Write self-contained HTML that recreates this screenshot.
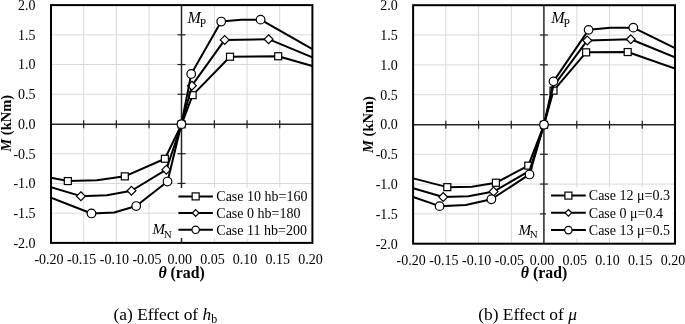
<!DOCTYPE html>
<html><head><meta charset="utf-8"><style>
html,body{margin:0;padding:0;background:#fff;}
body{width:685px;height:324px;overflow:hidden;position:relative;font-family:"Liberation Serif",serif;}
svg{position:absolute;left:0;top:0;display:block;will-change:transform;}
</style></head><body>
<svg width="685" height="324" viewBox="0 0 685 324">
<defs><clipPath id="clip51"><rect x="51" y="5" width="261.4" height="238"/></clipPath><clipPath id="clip413"><rect x="413.1" y="5.2" width="261.9" height="238.5"/></clipPath></defs>
<rect width="685" height="324" fill="#fff"/>
<line x1="83.67" y1="5.10" x2="83.67" y2="242.90" stroke="#d9d9d9" stroke-width="1"/>
<line x1="116.35" y1="5.10" x2="116.35" y2="242.90" stroke="#d9d9d9" stroke-width="1"/>
<line x1="149.02" y1="5.10" x2="149.02" y2="242.90" stroke="#d9d9d9" stroke-width="1"/>
<line x1="214.38" y1="5.10" x2="214.38" y2="242.90" stroke="#d9d9d9" stroke-width="1"/>
<line x1="247.05" y1="5.10" x2="247.05" y2="242.90" stroke="#d9d9d9" stroke-width="1"/>
<line x1="279.72" y1="5.10" x2="279.72" y2="242.90" stroke="#d9d9d9" stroke-width="1"/>
<line x1="51.00" y1="34.83" x2="312.40" y2="34.83" stroke="#d9d9d9" stroke-width="1"/>
<line x1="51.00" y1="64.55" x2="312.40" y2="64.55" stroke="#d9d9d9" stroke-width="1"/>
<line x1="51.00" y1="94.28" x2="312.40" y2="94.28" stroke="#d9d9d9" stroke-width="1"/>
<line x1="51.00" y1="153.72" x2="312.40" y2="153.72" stroke="#d9d9d9" stroke-width="1"/>
<line x1="51.00" y1="183.45" x2="312.40" y2="183.45" stroke="#d9d9d9" stroke-width="1"/>
<line x1="51.00" y1="213.18" x2="312.40" y2="213.18" stroke="#d9d9d9" stroke-width="1"/>
<line x1="51.00" y1="124.30" x2="312.40" y2="124.30" stroke="#262626" stroke-width="1.5"/>
<line x1="181.50" y1="5.10" x2="181.50" y2="242.90" stroke="#262626" stroke-width="1.5"/>
<line x1="83.67" y1="120.30" x2="83.67" y2="128.30" stroke="#222" stroke-width="1.2"/>
<line x1="116.35" y1="120.30" x2="116.35" y2="128.30" stroke="#222" stroke-width="1.2"/>
<line x1="149.02" y1="120.30" x2="149.02" y2="128.30" stroke="#222" stroke-width="1.2"/>
<line x1="214.38" y1="120.30" x2="214.38" y2="128.30" stroke="#222" stroke-width="1.2"/>
<line x1="247.05" y1="120.30" x2="247.05" y2="128.30" stroke="#222" stroke-width="1.2"/>
<line x1="279.72" y1="120.30" x2="279.72" y2="128.30" stroke="#222" stroke-width="1.2"/>
<line x1="177.50" y1="34.83" x2="185.50" y2="34.83" stroke="#222" stroke-width="1.2"/>
<line x1="177.50" y1="64.55" x2="185.50" y2="64.55" stroke="#222" stroke-width="1.2"/>
<line x1="177.50" y1="94.28" x2="185.50" y2="94.28" stroke="#222" stroke-width="1.2"/>
<line x1="177.50" y1="153.72" x2="185.50" y2="153.72" stroke="#222" stroke-width="1.2"/>
<line x1="177.50" y1="183.45" x2="185.50" y2="183.45" stroke="#222" stroke-width="1.2"/>
<line x1="177.50" y1="213.18" x2="185.50" y2="213.18" stroke="#222" stroke-width="1.2"/>
<rect x="177" y="188" width="134" height="50" fill="#fff"/>
<g clip-path="url(#clip51)">
<polyline points="51.00,177.85 67.80,181.05 96.90,180.35 124.80,176.35 164.90,158.75 181.60,124.35 192.60,95.15 230.00,56.75 278.20,56.25 312.40,65.95" fill="none" stroke="#000" stroke-width="2" stroke-linejoin="round"/>
<rect x="64.30" y="177.55" width="7.00" height="7.00" fill="#fff" stroke="#000" stroke-width="1.2"/>
<rect x="121.30" y="172.85" width="7.00" height="7.00" fill="#fff" stroke="#000" stroke-width="1.2"/>
<rect x="161.40" y="155.25" width="7.00" height="7.00" fill="#fff" stroke="#000" stroke-width="1.2"/>
<rect x="178.10" y="120.85" width="7.00" height="7.00" fill="#fff" stroke="#000" stroke-width="1.2"/>
<rect x="189.10" y="91.65" width="7.00" height="7.00" fill="#fff" stroke="#000" stroke-width="1.2"/>
<rect x="226.50" y="53.25" width="7.00" height="7.00" fill="#fff" stroke="#000" stroke-width="1.2"/>
<rect x="274.70" y="52.75" width="7.00" height="7.00" fill="#fff" stroke="#000" stroke-width="1.2"/>
<polyline points="51.00,187.25 80.90,196.15 106.80,195.15 131.50,190.75 166.30,169.65 181.60,124.35 191.90,85.65 224.70,39.95 268.60,39.15 312.40,57.35" fill="none" stroke="#000" stroke-width="2" stroke-linejoin="round"/>
<path d="M80.90,191.75 L85.30,196.15 L80.90,200.55 L76.50,196.15 Z" fill="#fff" stroke="#000" stroke-width="1.2"/>
<path d="M131.50,186.35 L135.90,190.75 L131.50,195.15 L127.10,190.75 Z" fill="#fff" stroke="#000" stroke-width="1.2"/>
<path d="M166.30,165.25 L170.70,169.65 L166.30,174.05 L161.90,169.65 Z" fill="#fff" stroke="#000" stroke-width="1.2"/>
<path d="M181.60,119.95 L186.00,124.35 L181.60,128.75 L177.20,124.35 Z" fill="#fff" stroke="#000" stroke-width="1.2"/>
<path d="M191.90,81.25 L196.30,85.65 L191.90,90.05 L187.50,85.65 Z" fill="#fff" stroke="#000" stroke-width="1.2"/>
<path d="M224.70,35.55 L229.10,39.95 L224.70,44.35 L220.30,39.95 Z" fill="#fff" stroke="#000" stroke-width="1.2"/>
<path d="M268.60,34.75 L273.00,39.15 L268.60,43.55 L264.20,39.15 Z" fill="#fff" stroke="#000" stroke-width="1.2"/>
<polyline points="51.00,197.65 91.50,213.45 114.20,212.45 136.20,206.05 167.50,181.55 181.40,124.15 191.20,73.95 221.20,21.55 241.40,19.65 260.60,19.65 312.40,49.15" fill="none" stroke="#000" stroke-width="2" stroke-linejoin="round"/>
<circle cx="91.50" cy="213.45" r="4.3" fill="#fff" stroke="#000" stroke-width="1.2"/>
<circle cx="136.20" cy="206.05" r="4.3" fill="#fff" stroke="#000" stroke-width="1.2"/>
<circle cx="167.50" cy="181.55" r="4.3" fill="#fff" stroke="#000" stroke-width="1.2"/>
<circle cx="181.40" cy="124.15" r="4.3" fill="#fff" stroke="#000" stroke-width="1.2"/>
<circle cx="191.20" cy="73.95" r="4.3" fill="#fff" stroke="#000" stroke-width="1.2"/>
<circle cx="221.20" cy="21.55" r="4.3" fill="#fff" stroke="#000" stroke-width="1.2"/>
<circle cx="260.60" cy="19.65" r="4.3" fill="#fff" stroke="#000" stroke-width="1.2"/>
</g>
<rect x="51.00" y="5.10" width="261.40" height="237.80" fill="none" stroke="#000" stroke-width="2"/>
<line x1="445.84" y1="5.20" x2="445.84" y2="243.70" stroke="#d9d9d9" stroke-width="1"/>
<line x1="478.58" y1="5.20" x2="478.58" y2="243.70" stroke="#d9d9d9" stroke-width="1"/>
<line x1="511.31" y1="5.20" x2="511.31" y2="243.70" stroke="#d9d9d9" stroke-width="1"/>
<line x1="576.79" y1="5.20" x2="576.79" y2="243.70" stroke="#d9d9d9" stroke-width="1"/>
<line x1="609.52" y1="5.20" x2="609.52" y2="243.70" stroke="#d9d9d9" stroke-width="1"/>
<line x1="642.26" y1="5.20" x2="642.26" y2="243.70" stroke="#d9d9d9" stroke-width="1"/>
<line x1="413.10" y1="35.01" x2="675.00" y2="35.01" stroke="#d9d9d9" stroke-width="1"/>
<line x1="413.10" y1="64.83" x2="675.00" y2="64.83" stroke="#d9d9d9" stroke-width="1"/>
<line x1="413.10" y1="94.64" x2="675.00" y2="94.64" stroke="#d9d9d9" stroke-width="1"/>
<line x1="413.10" y1="154.26" x2="675.00" y2="154.26" stroke="#d9d9d9" stroke-width="1"/>
<line x1="413.10" y1="184.07" x2="675.00" y2="184.07" stroke="#d9d9d9" stroke-width="1"/>
<line x1="413.10" y1="213.89" x2="675.00" y2="213.89" stroke="#d9d9d9" stroke-width="1"/>
<line x1="413.10" y1="124.70" x2="675.00" y2="124.70" stroke="#262626" stroke-width="1.5"/>
<line x1="543.90" y1="5.20" x2="543.90" y2="243.70" stroke="#262626" stroke-width="1.5"/>
<line x1="445.84" y1="120.70" x2="445.84" y2="128.70" stroke="#222" stroke-width="1.2"/>
<line x1="478.58" y1="120.70" x2="478.58" y2="128.70" stroke="#222" stroke-width="1.2"/>
<line x1="511.31" y1="120.70" x2="511.31" y2="128.70" stroke="#222" stroke-width="1.2"/>
<line x1="576.79" y1="120.70" x2="576.79" y2="128.70" stroke="#222" stroke-width="1.2"/>
<line x1="609.52" y1="120.70" x2="609.52" y2="128.70" stroke="#222" stroke-width="1.2"/>
<line x1="642.26" y1="120.70" x2="642.26" y2="128.70" stroke="#222" stroke-width="1.2"/>
<line x1="539.90" y1="35.01" x2="547.90" y2="35.01" stroke="#222" stroke-width="1.2"/>
<line x1="539.90" y1="64.83" x2="547.90" y2="64.83" stroke="#222" stroke-width="1.2"/>
<line x1="539.90" y1="94.64" x2="547.90" y2="94.64" stroke="#222" stroke-width="1.2"/>
<line x1="539.90" y1="154.26" x2="547.90" y2="154.26" stroke="#222" stroke-width="1.2"/>
<line x1="539.90" y1="184.07" x2="547.90" y2="184.07" stroke="#222" stroke-width="1.2"/>
<line x1="539.90" y1="213.89" x2="547.90" y2="213.89" stroke="#222" stroke-width="1.2"/>
<rect x="546" y="187" width="127" height="51" fill="#fff"/>
<g clip-path="url(#clip413)">
<polyline points="413.10,178.35 447.30,187.15 472.10,186.75 495.90,182.75 528.30,165.65 544.00,124.80 553.50,90.65 586.10,52.35 627.70,52.05 675.00,68.65" fill="none" stroke="#000" stroke-width="2" stroke-linejoin="round"/>
<rect x="443.80" y="183.65" width="7.00" height="7.00" fill="#fff" stroke="#000" stroke-width="1.2"/>
<rect x="492.40" y="179.25" width="7.00" height="7.00" fill="#fff" stroke="#000" stroke-width="1.2"/>
<rect x="524.80" y="162.15" width="7.00" height="7.00" fill="#fff" stroke="#000" stroke-width="1.2"/>
<rect x="540.50" y="121.30" width="7.00" height="7.00" fill="#fff" stroke="#000" stroke-width="1.2"/>
<rect x="550.00" y="87.15" width="7.00" height="7.00" fill="#fff" stroke="#000" stroke-width="1.2"/>
<rect x="582.60" y="48.85" width="7.00" height="7.00" fill="#fff" stroke="#000" stroke-width="1.2"/>
<rect x="624.20" y="48.55" width="7.00" height="7.00" fill="#fff" stroke="#000" stroke-width="1.2"/>
<polyline points="413.10,188.15 443.20,197.05 468.50,196.35 493.60,191.55 529.50,170.85 544.00,124.80 553.30,86.35 587.30,40.45 630.80,39.25 675.00,57.45" fill="none" stroke="#000" stroke-width="2" stroke-linejoin="round"/>
<path d="M443.20,192.65 L447.60,197.05 L443.20,201.45 L438.80,197.05 Z" fill="#fff" stroke="#000" stroke-width="1.2"/>
<path d="M493.60,187.15 L498.00,191.55 L493.60,195.95 L489.20,191.55 Z" fill="#fff" stroke="#000" stroke-width="1.2"/>
<path d="M544.00,120.40 L548.40,124.80 L544.00,129.20 L539.60,124.80 Z" fill="#fff" stroke="#000" stroke-width="1.2"/>
<path d="M587.30,36.05 L591.70,40.45 L587.30,44.85 L582.90,40.45 Z" fill="#fff" stroke="#000" stroke-width="1.2"/>
<path d="M630.80,34.85 L635.20,39.25 L630.80,43.65 L626.40,39.25 Z" fill="#fff" stroke="#000" stroke-width="1.2"/>
<polyline points="413.10,196.95 439.60,206.15 465.80,205.05 491.40,199.25 529.50,174.45 544.00,124.80 553.50,81.35 588.60,29.85 610.50,27.65 633.30,27.65 675.00,48.15" fill="none" stroke="#000" stroke-width="2" stroke-linejoin="round"/>
<circle cx="439.60" cy="206.15" r="4.3" fill="#fff" stroke="#000" stroke-width="1.2"/>
<circle cx="491.40" cy="199.25" r="4.3" fill="#fff" stroke="#000" stroke-width="1.2"/>
<circle cx="529.50" cy="174.45" r="4.3" fill="#fff" stroke="#000" stroke-width="1.2"/>
<circle cx="544.00" cy="124.80" r="4.3" fill="#fff" stroke="#000" stroke-width="1.2"/>
<circle cx="553.50" cy="81.35" r="4.3" fill="#fff" stroke="#000" stroke-width="1.2"/>
<circle cx="588.60" cy="29.85" r="4.3" fill="#fff" stroke="#000" stroke-width="1.2"/>
<circle cx="633.30" cy="27.65" r="4.3" fill="#fff" stroke="#000" stroke-width="1.2"/>
</g>
<rect x="413.10" y="5.20" width="261.90" height="238.50" fill="none" stroke="#000" stroke-width="2"/>
<text x="35.6" y="10.00" font-family="Liberation Serif" font-size="14" text-anchor="end">2.0</text>
<text x="35.6" y="39.73" font-family="Liberation Serif" font-size="14" text-anchor="end">1.5</text>
<text x="35.6" y="69.45" font-family="Liberation Serif" font-size="14" text-anchor="end">1.0</text>
<text x="35.6" y="99.18" font-family="Liberation Serif" font-size="14" text-anchor="end">0.5</text>
<text x="35.6" y="128.90" font-family="Liberation Serif" font-size="14" text-anchor="end">0.0</text>
<text x="35.6" y="158.62" font-family="Liberation Serif" font-size="14" text-anchor="end">-0.5</text>
<text x="35.6" y="188.35" font-family="Liberation Serif" font-size="14" text-anchor="end">-1.0</text>
<text x="35.6" y="218.08" font-family="Liberation Serif" font-size="14" text-anchor="end">-1.5</text>
<text x="35.6" y="247.80" font-family="Liberation Serif" font-size="14" text-anchor="end">-2.0</text>
<text x="49.00" y="264.2" font-family="Liberation Serif" font-size="14" text-anchor="middle">-0.20</text>
<text x="81.67" y="264.2" font-family="Liberation Serif" font-size="14" text-anchor="middle">-0.15</text>
<text x="114.35" y="264.2" font-family="Liberation Serif" font-size="14" text-anchor="middle">-0.10</text>
<text x="147.02" y="264.2" font-family="Liberation Serif" font-size="14" text-anchor="middle">-0.05</text>
<text x="179.70" y="264.2" font-family="Liberation Serif" font-size="14" text-anchor="middle">0.00</text>
<text x="212.38" y="264.2" font-family="Liberation Serif" font-size="14" text-anchor="middle">0.05</text>
<text x="245.05" y="264.2" font-family="Liberation Serif" font-size="14" text-anchor="middle">0.10</text>
<text x="277.72" y="264.2" font-family="Liberation Serif" font-size="14" text-anchor="middle">0.15</text>
<text x="310.40" y="264.2" font-family="Liberation Serif" font-size="14" text-anchor="middle">0.20</text>
<text x="397.8" y="10.10" font-family="Liberation Serif" font-size="14" text-anchor="end">2.0</text>
<text x="397.8" y="39.91" font-family="Liberation Serif" font-size="14" text-anchor="end">1.5</text>
<text x="397.8" y="69.73" font-family="Liberation Serif" font-size="14" text-anchor="end">1.0</text>
<text x="397.8" y="99.54" font-family="Liberation Serif" font-size="14" text-anchor="end">0.5</text>
<text x="397.8" y="129.35" font-family="Liberation Serif" font-size="14" text-anchor="end">0.0</text>
<text x="397.8" y="159.16" font-family="Liberation Serif" font-size="14" text-anchor="end">-0.5</text>
<text x="397.8" y="188.97" font-family="Liberation Serif" font-size="14" text-anchor="end">-1.0</text>
<text x="397.8" y="218.79" font-family="Liberation Serif" font-size="14" text-anchor="end">-1.5</text>
<text x="397.8" y="248.60" font-family="Liberation Serif" font-size="14" text-anchor="end">-2.0</text>
<text x="411.10" y="264.9" font-family="Liberation Serif" font-size="14" text-anchor="middle">-0.20</text>
<text x="443.84" y="264.9" font-family="Liberation Serif" font-size="14" text-anchor="middle">-0.15</text>
<text x="476.58" y="264.9" font-family="Liberation Serif" font-size="14" text-anchor="middle">-0.10</text>
<text x="509.31" y="264.9" font-family="Liberation Serif" font-size="14" text-anchor="middle">-0.05</text>
<text x="542.05" y="264.9" font-family="Liberation Serif" font-size="14" text-anchor="middle">0.00</text>
<text x="574.79" y="264.9" font-family="Liberation Serif" font-size="14" text-anchor="middle">0.05</text>
<text x="607.52" y="264.9" font-family="Liberation Serif" font-size="14" text-anchor="middle">0.10</text>
<text x="640.26" y="264.9" font-family="Liberation Serif" font-size="14" text-anchor="middle">0.15</text>
<text x="673.00" y="264.9" font-family="Liberation Serif" font-size="14" text-anchor="middle">0.20</text>
<text transform="translate(11.2,123.3) rotate(-90)" font-family="Liberation Serif" font-size="14.5" font-weight="bold" text-anchor="middle"><tspan font-style="italic">M</tspan> (kNm)</text>
<text transform="translate(372.6,124.5) rotate(-90)" font-family="Liberation Serif" font-size="14.5" font-weight="bold" text-anchor="middle"><tspan font-style="italic">M</tspan> (kNm)</text>
<text x="181.60" y="278.1" font-family="Liberation Serif" font-size="15.8" font-weight="bold" text-anchor="middle"><tspan font-style="italic">θ</tspan> (rad)</text>
<text x="544.00" y="278.1" font-family="Liberation Serif" font-size="15.8" font-weight="bold" text-anchor="middle"><tspan font-style="italic">θ</tspan> (rad)</text>
<text x="187.5" y="22.6" font-family="Liberation Serif" font-size="16"><tspan font-style="italic">M</tspan><tspan font-size="11.5" dx="-1.2" dy="4.2">P</tspan></text>
<text x="551.3" y="22.6" font-family="Liberation Serif" font-size="16"><tspan font-style="italic">M</tspan><tspan font-size="11.5" dx="-1.2" dy="4.2">P</tspan></text>
<text x="152.5" y="234.2" font-family="Liberation Serif" font-size="15"><tspan font-style="italic">M</tspan><tspan font-size="11" dx="-1.3" dy="3.6">N</tspan></text>
<text x="518.5" y="234.5" font-family="Liberation Serif" font-size="15"><tspan font-style="italic">M</tspan><tspan font-size="11" dx="-1.3" dy="3.6">N</tspan></text>
<line x1="178.4" y1="196.4" x2="212.9" y2="196.4" stroke="#000" stroke-width="2"/>
<rect x="192.15" y="192.90" width="7.00" height="7.00" fill="#fff" stroke="#000" stroke-width="1.2"/>
<text x="216.3" y="201.10" font-family="Liberation Serif" font-size="14">Case 10 hb=160</text>
<line x1="178.4" y1="213.0" x2="212.9" y2="213.0" stroke="#000" stroke-width="2"/>
<path d="M195.65,209.70 L198.95,213.00 L195.65,216.30 L192.35,213.00 Z" fill="#fff" stroke="#000" stroke-width="1.2"/>
<text x="216.3" y="217.70" font-family="Liberation Serif" font-size="14">Case 0 hb=180</text>
<line x1="178.4" y1="229.8" x2="212.9" y2="229.8" stroke="#000" stroke-width="2"/>
<circle cx="195.65" cy="229.80" r="3.7" fill="#fff" stroke="#000" stroke-width="1.2"/>
<text x="216.3" y="234.50" font-family="Liberation Serif" font-size="14">Case 11 hb=200</text>
<line x1="551.0" y1="195.6" x2="585.8" y2="195.6" stroke="#000" stroke-width="2"/>
<rect x="564.90" y="192.10" width="7.00" height="7.00" fill="#fff" stroke="#000" stroke-width="1.2"/>
<text x="588.8" y="200.30" font-family="Liberation Serif" font-size="14">Case 12 μ=0.3</text>
<line x1="551.0" y1="212.8" x2="585.8" y2="212.8" stroke="#000" stroke-width="2"/>
<path d="M568.40,209.50 L571.70,212.80 L568.40,216.10 L565.10,212.80 Z" fill="#fff" stroke="#000" stroke-width="1.2"/>
<text x="588.8" y="217.50" font-family="Liberation Serif" font-size="14">Case 0 μ=0.4</text>
<line x1="551.0" y1="230.1" x2="585.8" y2="230.1" stroke="#000" stroke-width="2"/>
<circle cx="568.40" cy="230.10" r="3.7" fill="#fff" stroke="#000" stroke-width="1.2"/>
<text x="588.8" y="234.80" font-family="Liberation Serif" font-size="14">Case 13 μ=0.5</text>
<text x="113.5" y="320.2" font-family="Liberation Serif" font-size="17.4">(a) Effect of <tspan font-style="italic">h</tspan><tspan font-size="12" dy="2.6">b</tspan></text>
<text x="478.2" y="320.2" font-family="Liberation Serif" font-size="17.4">(b) Effect of <tspan font-style="italic">μ</tspan></text>
</svg>
</body></html>
